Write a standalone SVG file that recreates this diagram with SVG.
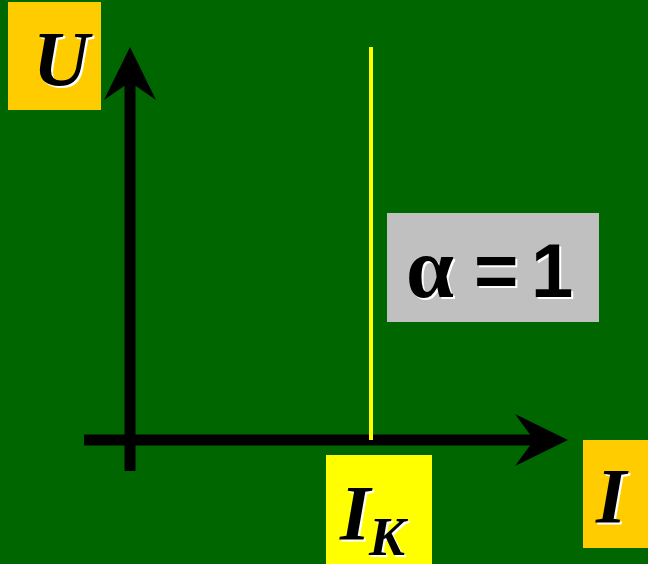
<svg xmlns="http://www.w3.org/2000/svg" width="648" height="564" viewBox="0 0 648 564">
<style>
.lbl{font-family:"Liberation Serif","Times New Roman",serif;font-weight:bold;font-style:italic;}
.sh{fill:#fff;}
.fg{fill:#000;}
.ax{stroke:#000;stroke-width:11;fill:none;}
.sans{font-family:"Liberation Sans",Arial,sans-serif;font-weight:bold;}
.greek{font-family:"Liberation Serif","Times New Roman",serif;font-weight:bold;}
</style>
<rect width="648" height="564" fill="#006600"/>
<g id="connectors">
<line class="ax" x1="130" y1="471" x2="130" y2="80"/>
<polygon points="130,47 156,100 130,82 104,100" fill="#000"/>
<line class="ax" x1="84" y1="440" x2="540" y2="440"/>
<polygon points="568,440 515,466 534,440 515,414" fill="#000"/>
<line x1="371" y1="47" x2="371" y2="440" stroke="#ffff00" stroke-width="4"/>
</g>
<g id="label-U">
<rect x="8" y="2" width="93" height="108" fill="#ffcc00"/>
<text class="lbl sh" x="35" y="87" font-size="78">U</text>
<text class="lbl fg" x="33" y="85" font-size="78">U</text>
</g>
<g id="label-alpha">
<rect x="387" y="213" width="212" height="109" fill="#c0c0c0"/>
<text class="greek sh" x="408" y="299" font-size="86">α</text>
<text class="greek fg" x="406" y="297" font-size="86">α</text>
<text class="sans sh" x="476" y="299" font-size="76">=</text>
<text class="sans fg" x="474" y="297" font-size="76">=</text>
<text class="sans sh" x="533" y="299" font-size="76">1</text>
<text class="sans fg" x="531" y="297" font-size="76">1</text>
</g>
<g id="label-IK">
<rect x="326" y="455" width="106" height="109" fill="#ffff00"/>
<text class="lbl sh" x="342" y="541" font-size="78">I</text>
<text class="lbl fg" x="340" y="539" font-size="78">I</text>
<text class="lbl sh" x="371" y="557" font-size="54">K</text>
<text class="lbl fg" x="369" y="555" font-size="54">K</text>
</g>
<g id="label-I">
<rect x="583" y="440" width="65" height="108" fill="#ffcc00"/>
<text class="lbl sh" x="598" y="524" font-size="78">I</text>
<text class="lbl fg" x="596" y="522" font-size="78">I</text>
</g>
</svg>
